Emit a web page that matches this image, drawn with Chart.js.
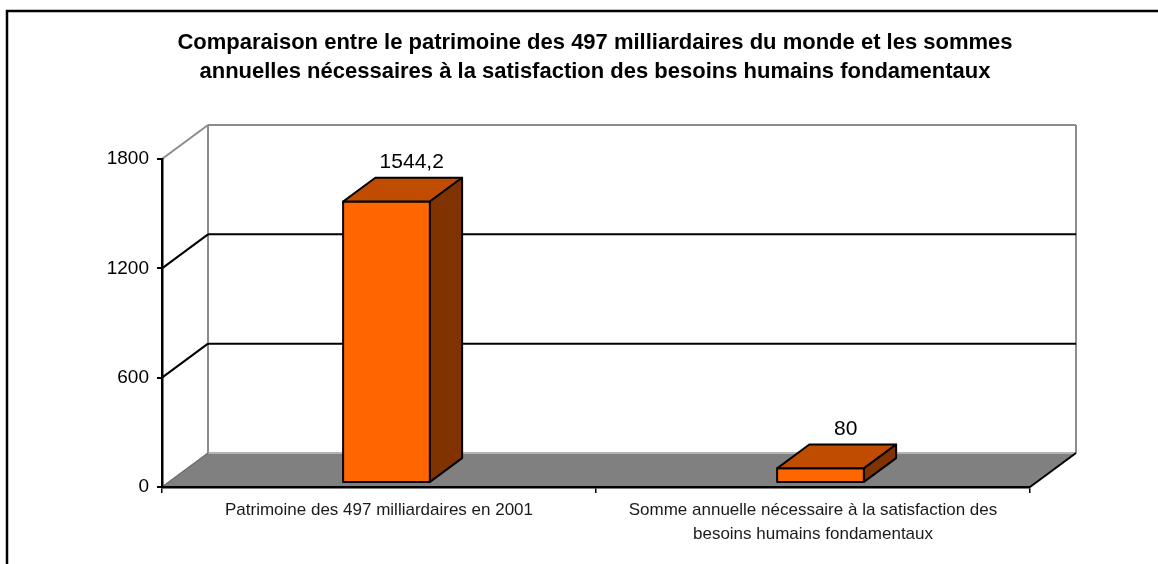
<!DOCTYPE html>
<html lang="fr">
<head>
<meta charset="utf-8">
<title>Patrimoine des milliardaires</title>
<script src="https://cdn.jsdelivr.net/npm/chart.js@4.4.1/dist/chart.umd.min.js"></script>
<style>
  html, body { margin: 0; padding: 0; background: #fff; }
  #wrap { width: 1158px; height: 564px; }
</style>
</head>
<body>
<div id="wrap"><canvas id="chart" width="1158" height="564"></canvas></div>
<script>
// chart data
const titleLines = [
    "Comparaison entre le patrimoine des 497 milliardaires du monde et les sommes",
    "annuelles nécessaires à la satisfaction des besoins humains fondamentaux"
];
const categories = [
    "Patrimoine des 497 milliardaires en 2001",
    ["Somme annuelle nécessaire à la satisfaction des", "besoins humains fondamentaux"]
];
const values = [1544.2, 80];
const yTicks = [0, 600, 1200, 1800];

// 3d look
const FONT = "'Liberation Sans', Arial, sans-serif";
const DX = 46, DY = -34;     // depth of the floor
const F0 = 0.12, F1 = 0.82;  // bar depth, as fraction of floor depth

function line(ctx, x1, y1, x2, y2, color, w) {
    ctx.strokeStyle = color;
    ctx.lineWidth = w;
    ctx.beginPath();
    ctx.moveTo(x1, y1);
    ctx.lineTo(x2, y2);
    ctx.stroke();
}

function poly(ctx, pts, fill) {
    ctx.beginPath();
    ctx.moveTo(pts[0][0], pts[0][1]);
    pts.slice(1).forEach(p => ctx.lineTo(p[0], p[1]));
    ctx.closePath();
    ctx.fillStyle = fill;
    ctx.fill();
    ctx.stroke();
}

const threeD = {
    id: "threeD",
    beforeDraw(chart) {
        const ctx = chart.ctx;
        const a = chart.chartArea;
        const y = chart.scales.y;
        ctx.save();

        // outer frame
        ctx.strokeStyle = "#000";
        ctx.lineWidth = 2.5;
        ctx.beginPath();
        ctx.moveTo(7, 564);
        ctx.lineTo(7, 11);
        ctx.lineTo(1158, 11);
        ctx.stroke();

        // title
        ctx.fillStyle = "#000";
        ctx.font = "bold 22px " + FONT;
        ctx.textAlign = "center";
        ctx.textBaseline = "middle";
        titleLines.forEach((t, i) => ctx.fillText(t, 595, 43 + i * 29));

        // floor
        ctx.fillStyle = "#808080";
        ctx.beginPath();
        ctx.moveTo(a.left, a.bottom);
        ctx.lineTo(a.left + DX, a.bottom + DY);
        ctx.lineTo(a.right + DX, a.bottom + DY);
        ctx.lineTo(a.right, a.bottom);
        ctx.closePath();
        ctx.fill();
        line(ctx, a.left + DX, a.bottom + DY, a.right + DX, a.bottom + DY, "#b4b4b4", 2);

        // back wall
        line(ctx, a.left + DX, a.top + DY, a.left + DX, a.bottom + DY, "#8c8c8c", 2);
        line(ctx, a.right + DX, a.top + DY, a.right + DX, a.bottom + DY, "#8c8c8c", 2);

        // grid lines from the y scale
        y.ticks.forEach(t => {
            const py = y.getPixelForValue(t.value);
            if (t.value === 0) {
                line(ctx, a.left, py, a.left + DX, py + DY, "#6e6e6e", 1.5);
                return;
            }
            const c = t.value === y.max ? "#8c8c8c" : "#000";
            line(ctx, a.left + DX, py + DY, a.right + DX, py + DY, c, 2);
            line(ctx, a.left, py, a.left + DX, py + DY, c, 2);
        });

        // right floor edge
        line(ctx, a.right, a.bottom, a.right + DX, a.bottom + DY, "#000", 2);
        ctx.restore();
    },
    afterDatasetsDraw(chart) {
        const ctx = chart.ctx;
        const meta = chart.getDatasetMeta(0);
        ctx.save();
        ctx.strokeStyle = "#000";
        ctx.lineWidth = 2;
        ctx.lineJoin = "round";
        meta.data.forEach((bar, i) => {
            const p = bar.getProps(["x", "y", "base", "width"], true);
            const x0 = p.x - p.width / 2 + DX * F0 + 2;
            const x1 = p.x + p.width / 2 + DX * F0 + 2;
            const yt = p.y + DY * F0;
            const yb = p.base + DY * F0;
            const dx = DX * (F1 - F0), dy = DY * (F1 - F0);

            poly(ctx, [[x0, yt], [x1, yt], [x1, yb], [x0, yb]], "#ff6600");
            poly(ctx, [[x0, yt], [x0 + dx, yt + dy], [x1 + dx, yt + dy], [x1, yt]], "#bf4c00");
            poly(ctx, [[x1, yt], [x1 + dx, yt + dy], [x1 + dx, yb + dy], [x1, yb]], "#803300");

            // value label
            ctx.fillStyle = "#000";
            ctx.font = "21px " + FONT;
            ctx.textAlign = "center";
            ctx.textBaseline = "middle";
            const label = String(values[i]).replace(".", ",");
            ctx.fillText(label, p.x + DX * 0.69 + 1, p.y + DY * F1 - 15.5);
        });
        ctx.restore();
    }
};

new Chart(document.getElementById("chart"), {
    type: "bar",
    data: {
        labels: categories,
        datasets: [{
            data: values,
            backgroundColor: "rgba(0,0,0,0)",
            borderWidth: 0,
            categoryPercentage: 1,
            barPercentage: 0.2
        }]
    },
    options: {
        responsive: false,
        animation: false,
        events: [],
        layout: { padding: { left: 8, right: 128, top: 159, bottom: 0 } },
        plugins: {
            legend: { display: false },
            tooltip: { enabled: false }
        },
        scales: {
            x: {
                afterFit: s => { s.height = 77; },
                grid: {
                    offset: true,
                    drawOnChartArea: false,
                    tickLength: 6,
                    color: "#000",
                    lineWidth: 1.5
                },
                border: { display: true, color: "#000", width: 2.5 },
                ticks: {
                    maxRotation: 0,
                    autoSkip: false,
                    padding: 5,
                    color: "#1a1a1a",
                    font: { family: FONT, size: 17, lineHeight: 1.41 }
                }
            },
            y: {
                min: yTicks[0],
                max: yTicks[yTicks.length - 1],
                afterFit: s => { s.width = 154; },
                afterBuildTicks: s => { s.ticks = yTicks.map(v => ({ value: v })); },
                grid: {
                    drawOnChartArea: false,
                    tickLength: 5,
                    color: "#000",
                    lineWidth: 2
                },
                border: { display: true, color: "#000", width: 2.5 },
                ticks: {
                    padding: 8,
                    color: "#000",
                    font: { family: FONT, size: 19 },
                    callback: v => String(v)
                }
            }
        }
    },
    plugins: [threeD]
});
</script>
</body>
</html>
